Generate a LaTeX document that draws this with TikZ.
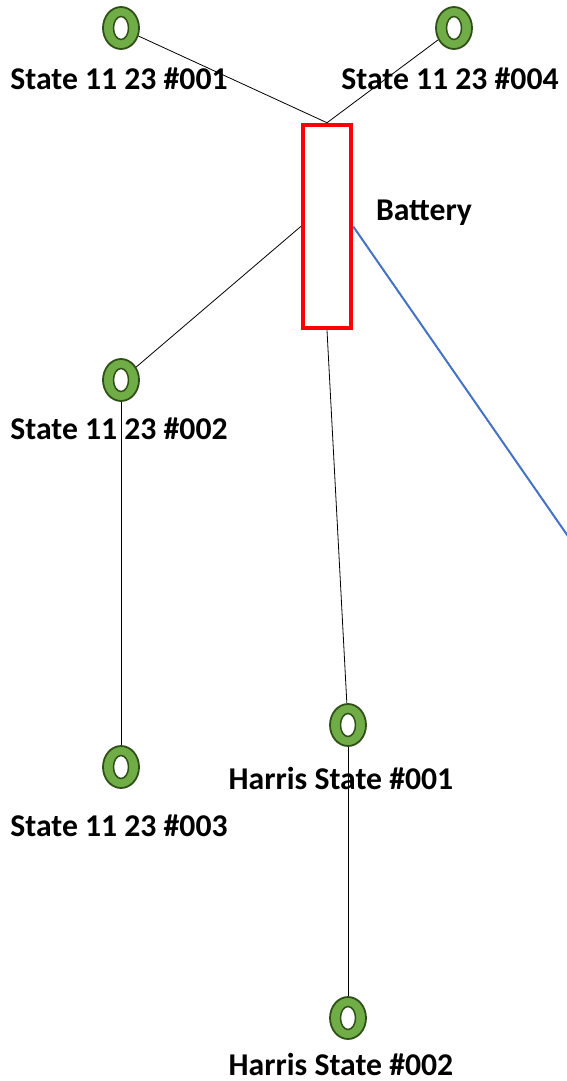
\documentclass[tikz,border=0pt]{standalone}
\usepackage{fontspec}
\setmainfont{Carlito}
\usetikzlibrary{shapes.geometric}
\definecolor{ringfill}{HTML}{70AD47}
\definecolor{ringedge}{HTML}{2F5118}
\definecolor{bline}{HTML}{4472C4}
\begin{document}
\begin{tikzpicture}[x=1pt,y=-1pt,
  ring/.style={ellipse,draw=ringedge,line width=1.8pt,fill=ringfill,minimum width=36pt,minimum height=42pt,inner sep=0pt},
  lbl/.style={font=\bfseries\fontsize{31.7}{36}\selectfont,inner sep=0pt},
  conn/.style={black,line width=0.8pt},
  batt/.style={rectangle,draw=red,line width=4.5pt,fill=white,minimum width=48pt,minimum height=203pt,inner sep=0pt}]
\useasboundingbox (0,0) rectangle (567,1081);
\newcommand{\hole}[1]{\filldraw[fill=white,draw=ringedge,line width=1.5pt] (#1) ellipse [x radius=7.5pt,y radius=11.5pt];}
\node[ring] (s1) at (121,28) {};
\node[ring] (s4) at (454,28) {};
\node[ring] (s2) at (121,380) {};
\node[ring] (s3) at (121,767) {};
\node[ring] (h1) at (348,725) {};
\node[ring] (h2) at (348,1018) {};
\foreach \n in {s1,s4,s2,s3,h1,h2} {\hole{\n}}
\node[batt] (bat) at (327,226.5) {};
\node[lbl] (l1) at (119,79) {State 11 23 \#001};
\node[lbl] (l4) at (450,79) {State 11 23 \#004};
\node[lbl] (lb) at (424,213) {Battery};
\node[lbl] (l2) at (119,429) {State 11 23 \#002};
\node[lbl] (l3) at (119,826) {State 11 23 \#003};
\node[lbl] (lh1) at (341,778) {Harris State \#001};
\node[lbl] (lh2) at (341,1064) {Harris State \#002};
\coordinate (bend) at (572,542);
\draw[conn] (s1) -- (bat.north);
\draw[conn] (s4) -- (bat.north);
\draw[conn] (bat.west) -- (s2);
\draw[conn] (s2) -- (s3);
\draw[conn] (bat.south) -- (h1);
\draw[conn] (h1) -- (h2);
\draw[bline,line width=2pt] (bat.east) -- (bend);
\end{tikzpicture}
\end{document}
